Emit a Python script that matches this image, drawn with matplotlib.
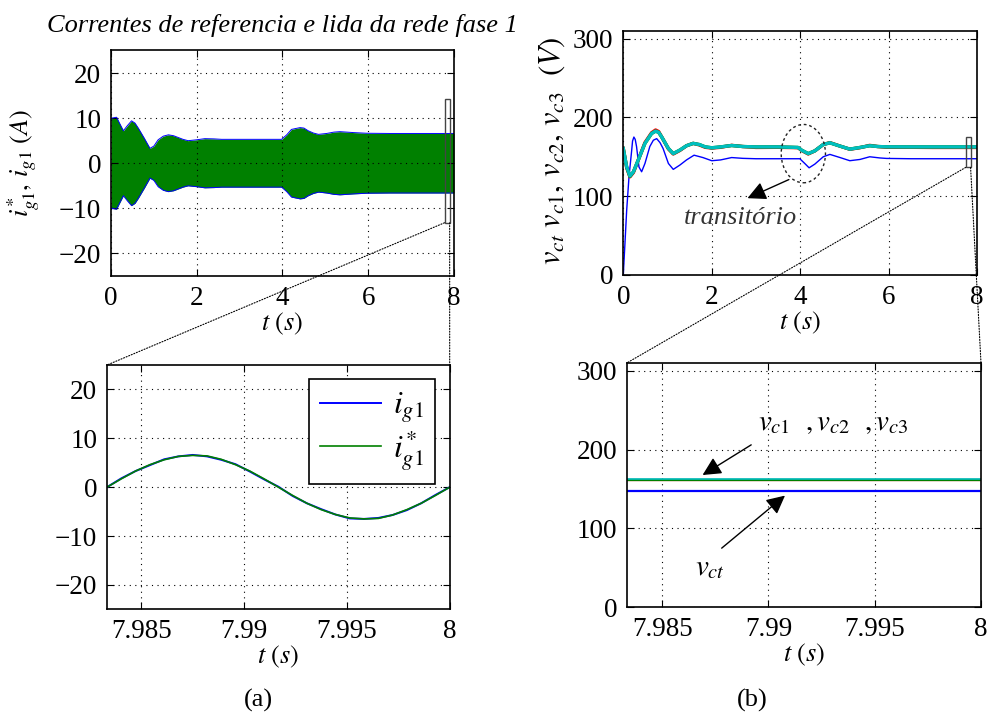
import numpy as np
import matplotlib
matplotlib.use("Agg")
import matplotlib.pyplot as plt
from matplotlib.patches import Ellipse, Rectangle, ConnectionPatch

plt.rcParams["font.family"] = "serif"
plt.rcParams["font.serif"] = ["Liberation Serif", "DejaVu Serif"]
plt.rcParams["mathtext.fontset"] = "stix"

# (a) envelope of the grid current i_g1 / i*_g1 (A), 0..8 s
t_env = [0, 0.02, 0.13, 0.22, 0.29, 0.38, 0.48, 0.56, 0.64, 0.78, 0.91, 1.0, 1.10,
         1.22, 1.34, 1.46, 1.57, 1.68, 1.80, 2.0, 2.19, 2.4, 2.58, 3.0, 3.5, 3.98,
         4.1, 4.21, 4.41, 4.5, 4.60, 4.72, 4.84, 5.03, 5.2, 5.34, 5.5, 5.65, 5.96,
         6.5, 7.0, 8.0]
env = [9.5, 10.0, 10.2, 8.5, 7.2, 8.3, 9.4, 8.9, 7.75, 5.5, 3.3, 3.8, 5.2,
       6.0, 6.3, 6.1, 5.7, 5.3, 5.0, 5.2, 5.45, 5.4, 5.3, 5.3, 5.3, 5.3,
       6.3, 7.5, 7.9, 7.8, 7.2, 6.7, 6.4, 6.6, 6.9, 7.0, 6.9, 6.8, 6.65,
       6.6, 6.6, 6.6]

# (a) zoom: last grid cycle, 25 samples from 8 - 1/60 s to 8 s
t_zoom = np.linspace(8 - 1 / 60, 8, 25)
ig1 = [0.0, 1.8, 3.3, 4.5, 5.7, 6.3, 6.6, 6.3, 5.6, 4.7, 3.2, 1.6, 0.1,
       -1.8, -3.3, -4.5, -5.6, -6.4, -6.5, -6.3, -5.7, -4.7, -3.3, -1.6, 0.0]
ig1_ref = [0.0, 1.7, 3.3, 4.6, 5.6, 6.3, 6.5, 6.4, 5.7, 4.6, 3.3, 1.7, 0.0,
           -1.7, -3.3, -4.6, -5.6, -6.3, -6.5, -6.4, -5.7, -4.6, -3.3, -1.7, 0.0]

# (b) dc-link voltages (V)
t_vct = [0, 0.04, 0.077, 0.13, 0.19, 0.21, 0.24, 0.27, 0.30, 0.355, 0.415, 0.49,
         0.60, 0.68, 0.755, 0.83, 0.90, 1.02, 1.13, 1.28, 1.43, 1.6, 1.8, 2.0,
         2.2, 2.45, 2.7, 3.0, 3.5, 3.99, 4.1, 4.2, 4.33, 4.52, 4.67, 4.9, 5.12,
         5.35, 5.57, 5.8, 5.95, 6.5, 7.0, 8.0]
vct = [0, 42, 82, 125, 158, 170, 175, 172, 163, 137, 131, 141.5,
       163, 171, 173, 168, 160.5, 141.5, 134, 139.5, 146, 152, 149, 145,
       146, 149, 148, 147.5, 147.5, 147.5, 141.6, 136, 140.7, 150, 153, 149, 145,
       146.6, 150, 148.5, 147.9, 147.5, 147.5, 147.5]

t_vc = [0, 0.077, 0.15, 0.23, 0.34, 0.49, 0.64, 0.73, 0.80, 0.87, 1.02, 1.13,
        1.28, 1.43, 1.58, 1.72, 1.85, 2.0, 2.2, 2.45, 2.7, 3.0, 3.5, 3.95, 4.03,
        4.18, 4.33, 4.52, 4.67, 4.9, 5.12, 5.35, 5.57, 5.75, 5.95, 6.5, 7.0, 8.0]
vc1 = [160.5, 136, 124.5, 130, 146, 168, 180.5, 184, 182, 175, 160, 153.5,
       158, 164, 167, 165, 162, 161, 162, 164.5, 163, 161.8, 162, 161.5, 158,
       153.5, 157.5, 165.5, 168, 163.5, 159.5, 161.5, 164.5, 163, 162, 162, 161.8, 161.8]
vc2 = [160.5, 137, 125, 131, 146, 167, 179.5, 182.5, 181, 175, 160.5, 154,
       158.5, 164, 167, 165.5, 162.6, 161.4, 162.5, 164.3, 163, 162.5, 162.5, 161.8, 158.4,
       154, 157.5, 165.6, 167.7, 163.5, 159.7, 161.8, 164, 163, 162.6, 162.5, 162.5, 162.5]
vc3 = [160.5, 137, 125.5, 131, 146, 167, 179.5, 182.5, 181, 175, 160.5, 154,
       158.5, 164, 167, 165.5, 162.6, 161.4, 162.5, 164.3, 163, 162.5, 162.5, 161.8, 158.4,
       154, 157.5, 165.6, 167.7, 163.5, 159.7, 161.8, 164, 163, 162.6, 162.5, 162.5, 162.5]

# (b) zoom
t_zoom_v = [8 - 1 / 60, 8]
vct_zoom = [147.8, 147.8]
vc1_zoom = [161.6, 161.6]
vc2_zoom = [162.0, 162.0]
vc3_zoom = [162.3, 162.3]

BLUE = "#0000ff"
GREEN = "#008000"
RED = "#ff0000"
CYAN = "#00bfbf"
TICK_FS = 19.5
LAB_FS = 19


def style(ax):
    ax.tick_params(direction="in", top=True, right=True, length=5,
                   labelsize=TICK_FS, pad=7)
    ax.grid(True, color="black", linestyle=(0, (1, 4)), linewidth=0.8)
    for s in ax.spines.values():
        s.set_linewidth(1.2)


fig = plt.figure(figsize=(9.89, 7.18), dpi=100)
ax_tl = fig.add_axes([0.1122, 0.6156, 0.3468, 0.3141])
ax_tr = fig.add_axes([0.6302, 0.6170, 0.3579, 0.3403])
ax_bl = fig.add_axes([0.1082, 0.1514, 0.3465, 0.3402])
ax_br = fig.add_axes([0.6337, 0.1542, 0.3582, 0.3402])

# top-left: dense 60 Hz current, shown as its envelope band
env_neg = [-e for e in env]
ax_tl.plot(t_env, env, color=BLUE, lw=0.7)
ax_tl.plot(t_env, env_neg, color=BLUE, lw=0.7)
ax_tl.fill_between(t_env, env_neg, env, color=GREEN, lw=0)
ax_tl.set_xlim(0, 8)
ax_tl.set_ylim(-25, 25)
ax_tl.set_xticks([0, 2, 4, 6, 8])
ax_tl.set_yticks([-20, -10, 0, 10, 20])
ax_tl.set_xlabel(r"$t\ (s)$", fontsize=LAB_FS, labelpad=0)
ax_tl.set_ylabel(r"$i^{*}_{g1},\, i_{g1}\ (A)$", fontsize=LAB_FS)
ax_tl.yaxis.set_label_coords(-0.2, 0.5)
ax_tl.set_title("Correntes de referencia e lida da rede fase 1", fontsize=19,
                fontstyle="italic", pad=13)
style(ax_tl)
ax_tl.add_patch(Rectangle((7.78, -13.2), 0.12, 27.5, fill=False,
                          ec="#444444", lw=1.0, zorder=5))

# top-right: capacitor voltages
ax_tr.plot(t_vct, vct, color=BLUE, lw=1.0)
ax_tr.plot(t_vc, vc1, color=RED, lw=2.4)
ax_tr.plot(t_vc, vc2, color=GREEN, lw=2.4)
ax_tr.plot(t_vc, vc3, color=CYAN, lw=2.4)
ax_tr.set_xlim(0, 8)
ax_tr.set_ylim(0, 310)
ax_tr.set_xticks([0, 2, 4, 6, 8])
ax_tr.set_yticks([0, 100, 200, 300])
ax_tr.set_xlabel(r"$t\ (s)$", fontsize=LAB_FS, labelpad=0)
ax_tr.set_ylabel(r"$v_{ct}\ v_{c1},\, v_{c2},\, v_{c3}\ \ (V)$", fontsize=22)
ax_tr.yaxis.set_label_coords(-0.16, 0.51)
style(ax_tr)
ax_tr.add_patch(Ellipse((4.07, 154), 1.0, 74, fill=False, ec="#222222",
                        lw=1.0, ls=(0, (2, 2)), zorder=5))
ax_tr.annotate("", xy=(2.75, 96), xytext=(3.8, 122.5),
               arrowprops=dict(arrowstyle="-|>", mutation_scale=28, color="black", lw=1.0))
ax_tr.text(2.64, 72, "transitório", fontsize=19, fontstyle="italic",
           color="#333333", ha="center", va="center")
ax_tr.add_patch(Rectangle((7.74, 136.5), 0.11, 38.5, fill=False,
                          ec="#444444", lw=1.0, zorder=5))

# bottom-left: zoom on last cycle
ax_bl.plot(t_zoom, ig1, color=BLUE, lw=1.4, label=r"$i_{g1}$")
ax_bl.plot(t_zoom, ig1_ref, color=GREEN, lw=1.2, label=r"$i^{*}_{g1}$")
ax_bl.set_xlim(8 - 1 / 60, 8)
ax_bl.set_ylim(-25, 25)
ax_bl.set_xticks([7.985, 7.99, 7.995, 8])
ax_bl.set_xticklabels(["7.985", "7.99", "7.995", "8"])
ax_bl.set_yticks([-20, -10, 0, 10, 20])
ax_bl.set_xlabel(r"$t\ (s)$", fontsize=LAB_FS, labelpad=0)
style(ax_bl)
leg = ax_bl.legend(loc="upper right", fontsize=23, handlelength=1.9,
                   handletextpad=0.4, fancybox=False, edgecolor="black",
                   framealpha=1, borderaxespad=0.45, labelspacing=0.1,
                   borderpad=0.35)
leg.get_frame().set_linewidth(1.2)

# bottom-right: zoom on voltages
ax_br.plot(t_zoom_v, vct_zoom, color=BLUE, lw=1.6)
ax_br.plot(t_zoom_v, vc1_zoom, color=RED, lw=1.6)
ax_br.plot(t_zoom_v, vc2_zoom, color=GREEN, lw=1.6)
ax_br.plot(t_zoom_v, vc3_zoom, color=CYAN, lw=1.2)
ax_br.set_xlim(8 - 1 / 60, 8)
ax_br.set_ylim(0, 310)
ax_br.set_xticks([7.985, 7.99, 7.995, 8])
ax_br.set_xticklabels(["7.985", "7.99", "7.995", "8"])
ax_br.set_yticks([0, 100, 200, 300])
ax_br.set_xlabel(r"$t\ (s)$", fontsize=LAB_FS, labelpad=0)
style(ax_br)
ax_br.text(7.98952, 225, r"$v_{c1}\ \ ,v_{c2}\ \ ,v_{c3}$", fontsize=21, va="baseline")
ax_br.annotate("", xy=(7.98679, 166), xytext=(7.9893, 208),
               arrowprops=dict(arrowstyle="-|>", mutation_scale=28, color="black", lw=1.0))
ax_br.text(7.98654, 41, r"$v_{ct}$", fontsize=21, va="baseline")
ax_br.annotate("", xy=(7.99088, 144), xytext=(7.98770, 72.8),
               arrowprops=dict(arrowstyle="-|>", mutation_scale=28, color="black", lw=1.0))

# dotted links between zoom boxes and zoomed axes
links = [(ax_tl, (7.78, -13.2), ax_bl, (0, 1)),
         (ax_tl, (7.90, -13.2), ax_bl, (1, 1)),
         (ax_tr, (7.74, 136.5), ax_br, (0, 1)),
         (ax_tr, (7.85, 136.5), ax_br, (1, 1))]
for a1, p1, a2, p2 in links:
    con = ConnectionPatch(xyA=p1, coordsA="data", axesA=a1,
                          xyB=p2, coordsB="axes fraction", axesB=a2,
                          color="black", lw=0.8, ls=(0, (1, 1.5)))
    fig.add_artist(con)

fig.text(258 / 989, 1 - 700 / 718, "(a)", fontsize=19, ha="center", va="center")
fig.text(752 / 989, 1 - 700 / 718, "(b)", fontsize=19, ha="center", va="center")

fig.savefig("out.png", dpi=100)
